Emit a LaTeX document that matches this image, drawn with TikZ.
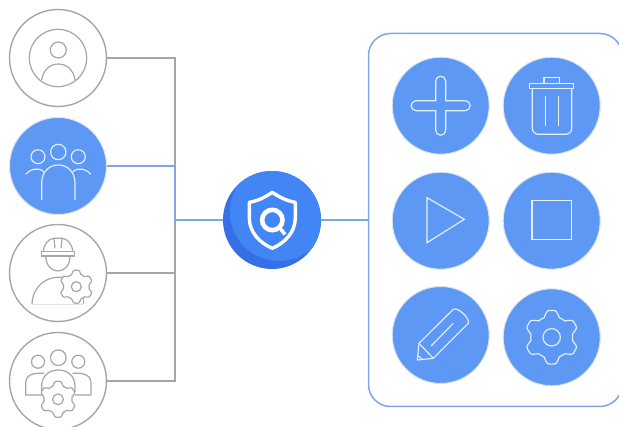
\documentclass[tikz,border=0pt]{standalone}
\usepackage{tikz}

\definecolor{btnblue}{HTML}{5E98F5}
\definecolor{hubblue}{HTML}{4285F4}
\definecolor{hubdark}{HTML}{3570E6}
\definecolor{linkblue}{HTML}{7EA5E8}
\definecolor{linkgray}{HTML}{A6A6A6}
\definecolor{ringpale}{HTML}{DDE3EA}

\tikzset{
    ringicon/.style={circle,draw=linkgray,line width=1.4pt,fill=white,minimum size=97pt,inner sep=0pt,outer sep=0pt},
    fillicon/.style={circle,draw=ringpale,line width=1pt,fill=btnblue,minimum size=97pt,inner sep=0pt,outer sep=0pt},
    hubicon/.style={circle,fill=hubdark,minimum size=98pt,inner sep=0pt,outer sep=0pt},
    panelbox/.style={rectangle,draw=linkblue,line width=1.5pt,rounded corners=22pt,minimum width=253.5pt,minimum height=373pt,inner sep=0pt,outer sep=0pt},
    grayline/.style={draw=linkgray,line width=1.5pt},
    blueline/.style={draw=linkblue,line width=1.5pt},
    graystroke/.style={draw=linkgray,line width=1.2pt},
    whitestroke/.style={draw=white!85!btnblue,line width=1.15pt},
    shieldstroke/.style={draw=white,line width=3.4pt,line join=round}
}

\newcommand{\gearicon}[5]{
    \draw[#1,shift={(#2,#3)}] plot[smooth cycle,domain=0:357.5,samples=144] (\x:{#4*(.89-.11*max(-1,min(1,1.6*cos(6*\x))))});
    \draw[#1] (#2,#3) circle (#5);
}

\begin{document}
\begin{tikzpicture}[x=1pt,y=-1pt]
    \useasboundingbox (0,0) rectangle (619,427);

    \node[ringicon] (user) at (58,58) {};
    \node[fillicon] (team) at (58,166) {};
    \node[ringicon] (worker) at (58,273) {};
    \node[ringicon] (admin) at (58,381) {};
    \node[hubicon] (hub) at (272,220) {};
    \node[panelbox] (panel) at (495.25,220) {};
    \coordinate (bus) at (175,220);

    \node[fillicon] (add) at (440.7,105.7) {};
    \node[fillicon] (trash) at (551.7,105.7) {};
    \node[fillicon] (play) at (440.7,220.7) {};
    \node[fillicon] (stop) at (551.7,220.7) {};
    \node[fillicon] (edit) at (440.7,335) {};
    \node[fillicon] (config) at (551.7,337.3) {};

    \draw[grayline] (user) -- (user -| bus) -- (admin -| bus) -- (admin);
    \draw[grayline] (worker) -- (worker -| bus);
    \draw[blueline] (team) -- (team -| bus) -- (bus) -- (hub);
    \draw[blueline] (hub) -- (hub -| panel.west);

    \begin{scope}
        \clip (272,220) circle (49);
        \fill[hubblue] (279,212) circle (49);
    \end{scope}
    \draw[shieldstroke] (272.3,192.3) .. controls (280,197.5) and (287,201) .. (295.3,202.3) -- (295.3,218) .. controls (295.3,232) and (285,243) .. (272.3,248.3) .. controls (259.6,243) and (249.3,232) .. (249.3,218) -- (249.3,202.3) .. controls (257.6,201) and (264.6,197.5) .. (272.3,192.3) -- cycle;
    \draw[draw=white,line width=4.6pt] (272.3,220) circle (10.2);
    \draw[draw=white,line width=3.6pt] (279.5,227.5) -- (285,234.5);

    \draw[graystroke] (58,58) circle (28.7);
    \draw[graystroke] (58.3,50) circle (8);
    \draw[graystroke] (41.7,80) .. controls (43,70) and (50,64) .. (58.3,64) .. controls (66.6,64) and (73.6,70) .. (75,80);

    \draw[whitestroke] (58.3,152) circle (7.7);
    \draw[whitestroke] (38,156.7) circle (7);
    \draw[whitestroke] (78.3,156.7) circle (7);
    \draw[whitestroke] (41.7,200) -- (41.7,183) .. controls (41.7,172) and (49,165) .. (58.3,165) .. controls (67.6,165) and (75,172) .. (75,183) -- (75,200);
    \draw[whitestroke] (25.7,174.3) .. controls (29,170) and (38,166) .. (44,172);
    \draw[whitestroke] (90.9,174.3) .. controls (87.6,170) and (78.6,166) .. (72.6,172);

    \draw[graystroke] (41.3,251.7) rectangle (74.7,256);
    \draw[graystroke] (43.3,251.7) .. controls (43.5,244) and (49,238.5) .. (54,238.3) -- (62,238.3) .. controls (67,238.5) and (72.5,244) .. (72.7,251.7);
    \draw[graystroke] (54,238.3) -- (55,248.3);
    \draw[graystroke] (62,238.3) -- (61,248.3);
    \draw[graystroke] (45.7,256) .. controls (46,265) and (51,271) .. (58,271) .. controls (65,271) and (70,265) .. (70,256);
    \draw[graystroke] (32,304.3) .. controls (32,290) and (43,277.3) .. (58,277.3) -- (68,277.3);
    \draw[draw=ringpale,line width=.8pt] (32,304.3) -- (83.3,304.3);
    \draw[graystroke] (83.3,304.3) -- (83.3,298);
    \gearicon{graystroke,fill=white}{76.3}{286.7}{16.5}{5}

    \draw[graystroke] (58.3,357.7) circle (7.8);
    \draw[graystroke] (38,361.7) circle (6.5);
    \draw[graystroke] (78.3,361.7) circle (6.5);
    \draw[graystroke] (42,395) -- (25.7,395) -- (25.7,382) .. controls (25.7,376) and (32,373.3) .. (38,373.3) -- (44,373.3);
    \draw[graystroke] (74.6,395) -- (90.9,395) -- (90.9,382) .. controls (90.9,376) and (84.6,373.3) .. (78.6,373.3) -- (72.6,373.3);
    \draw[graystroke] (41.7,392) -- (41.7,386) .. controls (41.7,376) and (49,370) .. (58.3,370) .. controls (67.6,370) and (75,376) .. (75,386) -- (75,392);
    \gearicon{graystroke,fill=white}{58}{399.3}{18}{5.4}

    \draw[whitestroke] (435.7,100.7) [rounded corners=4.9pt] -- (435.7,76.2) -- (445.7,76.2) [sharp corners] -- (445.7,100.7) [rounded corners=4.9pt] -- (470.2,100.7) -- (470.2,110.7) [sharp corners] -- (445.7,110.7) [rounded corners=4.9pt] -- (445.7,135.2) -- (435.7,135.2) [sharp corners] -- (435.7,110.7) [rounded corners=4.9pt] -- (411.2,110.7) -- (411.2,100.7) [sharp corners] -- cycle;

    \draw[whitestroke] (529.7,83.3) rectangle (573.7,88.7);
    \draw[whitestroke] (544,83.3) -- (544,77.7) -- (559.3,77.7) -- (559.3,83.3);
    \draw[whitestroke,rounded corners=6pt] (532.3,88.7) -- (532.3,134.3) -- (571.7,134.3) -- (571.7,88.7);
    \draw[whitestroke] (545.3,96) -- (545.3,125.7);
    \draw[whitestroke] (558.3,96) -- (558.3,125.7);

    \draw[whitestroke] (427,197.7) -- (464.3,219.3) -- (427,242.7) -- cycle;

    \draw[whitestroke] (532,200.7) rectangle (571.7,239.7);

    \draw[whitestroke,line join=round] (419,343.3) -- (453.3,309.3) .. controls (458,307) and (470,318) .. (468.3,323.3) -- (433.3,358.3) -- (417.3,360) -- cycle;
    \draw[whitestroke] (419,343.3) -- (433.3,358.3);
    \draw[whitestroke] (417.5,355) -- (422.5,359.5);
    \draw[whitestroke] (431,346) -- (453.3,323.3);

    \gearicon{whitestroke}{551.7}{337.3}{26.8}{8.7}
\end{tikzpicture}
\end{document}
